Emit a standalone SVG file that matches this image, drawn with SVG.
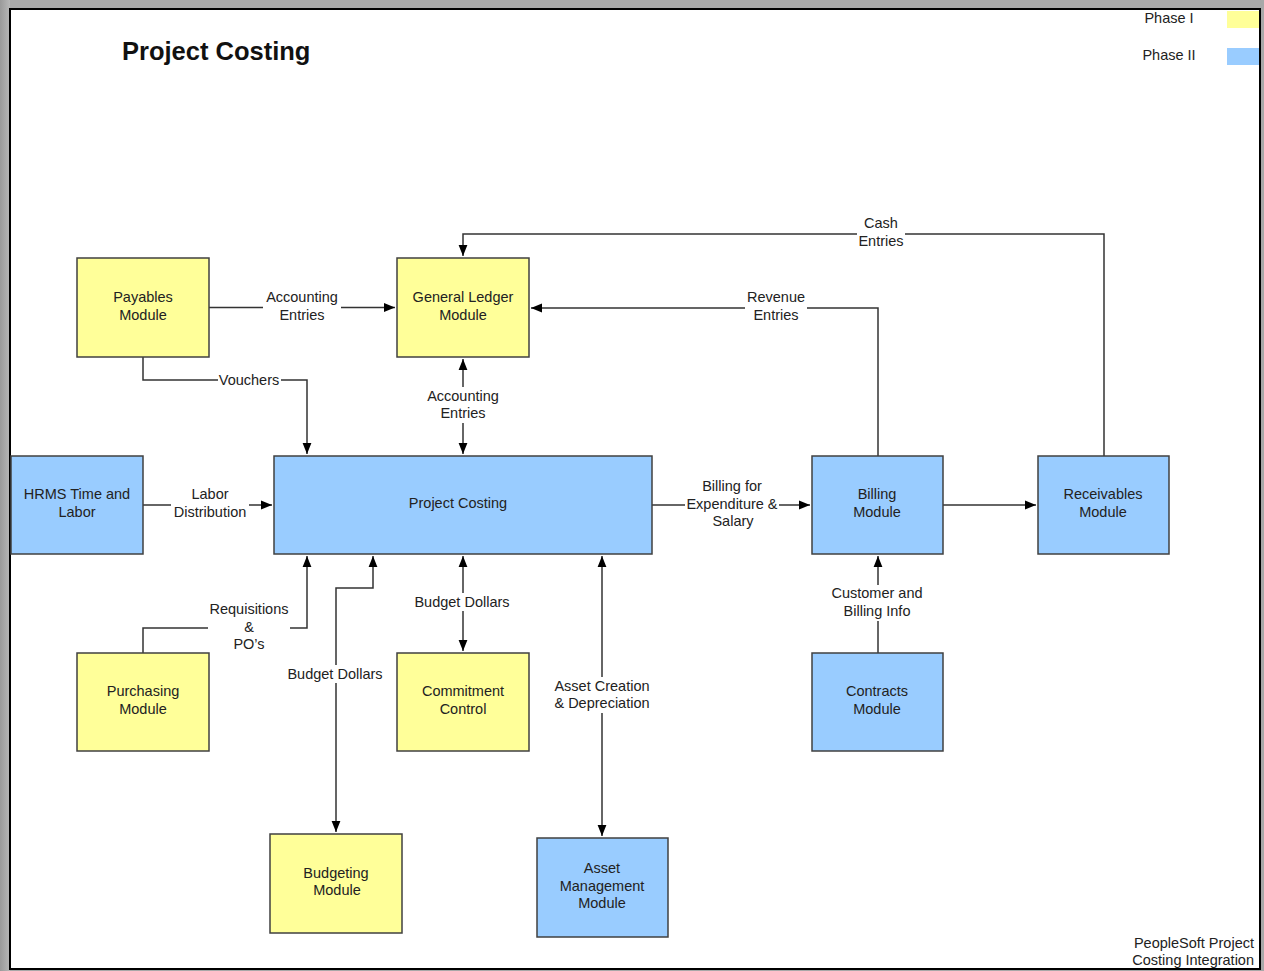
<svg xmlns="http://www.w3.org/2000/svg" width="1264" height="971" viewBox="0 0 1264 971">
<defs>
<marker id="arr" viewBox="0 0 10 10" refX="10" refY="5" markerWidth="11" markerHeight="11" markerUnits="userSpaceOnUse" orient="auto-start-reverse">
<path d="M0,1 L10,5 L0,9 Z" fill="#000"/>
</marker>
<linearGradient id="gl" x1="0" y1="0" x2="1" y2="0"><stop offset="0" stop-color="#9a9a9a"/><stop offset="1" stop-color="#b8b8b8"/></linearGradient>
</defs>
<style>
text{font-family:"Liberation Sans",Arial,sans-serif;font-size:14.5px;fill:#222;text-anchor:middle}
.y{fill:#ffff99;stroke:#404040;stroke-width:1.5}
.b{fill:#99ccff;stroke:#404040;stroke-width:1.5}
.c{fill:none;stroke:#333;stroke-width:1.5}
.bg{fill:#fff}
.title{font-size:25.5px;font-weight:bold;fill:#111;text-anchor:start}
.r{text-anchor:end}
</style>
<rect x="0" y="0" width="1264" height="971" fill="#a8a8a8"/>
<rect x="0" y="0" width="10" height="971" fill="url(#gl)"/>
<rect x="10" y="9" width="1250" height="960" fill="#fff" stroke="#000" stroke-width="2"/>
<text class="title" x="122" y="60">Project Costing</text>
<g id="legend">
<text x="1169" y="23">Phase I</text>
<rect x="1227" y="11" width="32" height="17" fill="#ffff99"/>
<text x="1169" y="60">Phase II</text>
<rect x="1227" y="48" width="32" height="17" fill="#99ccff"/>
</g>
<text class="r" x="1254" y="948">PeopleSoft Project</text>
<text class="r" x="1254" y="965">Costing Integration</text>
<g id="connectors">
<path class="c" d="M209,307.5 H395" marker-end="url(#arr)"/>
<path class="c" d="M143,357 V380 H307 V454" marker-end="url(#arr)"/>
<path class="c" d="M463,359 V454" marker-start="url(#arr)" marker-end="url(#arr)"/>
<path class="c" d="M143,505 H272" marker-end="url(#arr)"/>
<path class="c" d="M652,505 H810" marker-end="url(#arr)"/>
<path class="c" d="M943,505 H1036" marker-end="url(#arr)"/>
<path class="c" d="M878,456 V308 H531" marker-end="url(#arr)"/>
<path class="c" d="M1104,456 V234 H463 V256" marker-end="url(#arr)"/>
<path class="c" d="M878,653 V556" marker-end="url(#arr)"/>
<path class="c" d="M143,653 V628 H307 V556" marker-end="url(#arr)"/>
<path class="c" d="M336,832 V588 H373 V556" marker-start="url(#arr)" marker-end="url(#arr)"/>
<path class="c" d="M463,556 V651" marker-start="url(#arr)" marker-end="url(#arr)"/>
<path class="c" d="M602,556 V836" marker-start="url(#arr)" marker-end="url(#arr)"/>
<rect class="bg" x="263" y="289" width="78" height="36"/>
<text x="302" y="302">Accounting</text><text x="302" y="320">Entries</text>
<rect class="bg" x="218" y="373" width="63" height="15"/>
<text x="249" y="385">Vouchers</text>
<rect class="bg" x="424" y="387" width="78" height="36"/>
<text x="463" y="401">Accounting</text><text x="463" y="418">Entries</text>
<rect class="bg" x="171" y="486" width="78" height="36"/>
<text x="210" y="499">Labor</text><text x="210" y="517">Distribution</text>
<rect class="bg" x="685" y="477" width="94" height="52"/>
<text x="732" y="491">Billing for</text><text x="732" y="509">Expenditure &amp;</text><text x="733" y="526">Salary</text>
<rect class="bg" x="745" y="289" width="62" height="36"/>
<text x="776" y="302">Revenue</text><text x="776" y="320">Entries</text>
<rect class="bg" x="857" y="215" width="48" height="36"/>
<text x="881" y="228">Cash</text><text x="881" y="246">Entries</text>
<rect class="bg" x="829" y="585" width="97" height="36"/>
<text x="877" y="598">Customer and</text><text x="877" y="616">Billing Info</text>
<rect class="bg" x="208" y="600" width="82" height="53"/>
<text x="249" y="614">Requisitions</text><text x="249" y="632">&amp;</text><text x="249" y="649">PO’s</text>
<rect class="bg" x="286" y="665" width="99" height="18"/>
<text x="335" y="679">Budget Dollars</text>
<rect class="bg" x="412" y="593" width="101" height="18"/>
<text x="462" y="607">Budget Dollars</text>
<rect class="bg" x="552" y="677" width="100" height="36"/>
<text x="602" y="691">Asset Creation</text><text x="602" y="708">&amp; Depreciation</text>
</g>
<g id="payables"><rect class="y" x="77" y="258" width="132" height="99"/><text x="143" y="302">Payables</text><text x="143" y="320">Module</text></g>
<g id="general-ledger"><rect class="y" x="397" y="258" width="132" height="99"/><text x="463" y="302">General Ledger</text><text x="463" y="320">Module</text></g>
<g id="hrms"><rect class="b" x="11" y="456" width="132" height="98"/><text x="77" y="499">HRMS Time and</text><text x="77" y="517">Labor</text></g>
<g id="project-costing"><rect class="b" x="274" y="456" width="378" height="98"/><text x="458" y="508">Project Costing</text></g>
<g id="billing"><rect class="b" x="812" y="456" width="131" height="98"/><text x="877" y="499">Billing</text><text x="877" y="517">Module</text></g>
<g id="receivables"><rect class="b" x="1038" y="456" width="131" height="98"/><text x="1103" y="499">Receivables</text><text x="1103" y="517">Module</text></g>
<g id="purchasing"><rect class="y" x="77" y="653" width="132" height="98"/><text x="143" y="696">Purchasing</text><text x="143" y="714">Module</text></g>
<g id="commitment"><rect class="y" x="397" y="653" width="132" height="98"/><text x="463" y="696">Commitment</text><text x="463" y="714">Control</text></g>
<g id="contracts"><rect class="b" x="812" y="653" width="131" height="98"/><text x="877" y="696">Contracts</text><text x="877" y="714">Module</text></g>
<g id="budgeting"><rect class="y" x="270" y="834" width="132" height="99"/><text x="336" y="878">Budgeting</text><text x="337" y="895">Module</text></g>
<g id="asset"><rect class="b" x="537" y="838" width="131" height="99"/><text x="602" y="873">Asset</text><text x="602" y="891">Management</text><text x="602" y="908">Module</text></g>
</svg>
